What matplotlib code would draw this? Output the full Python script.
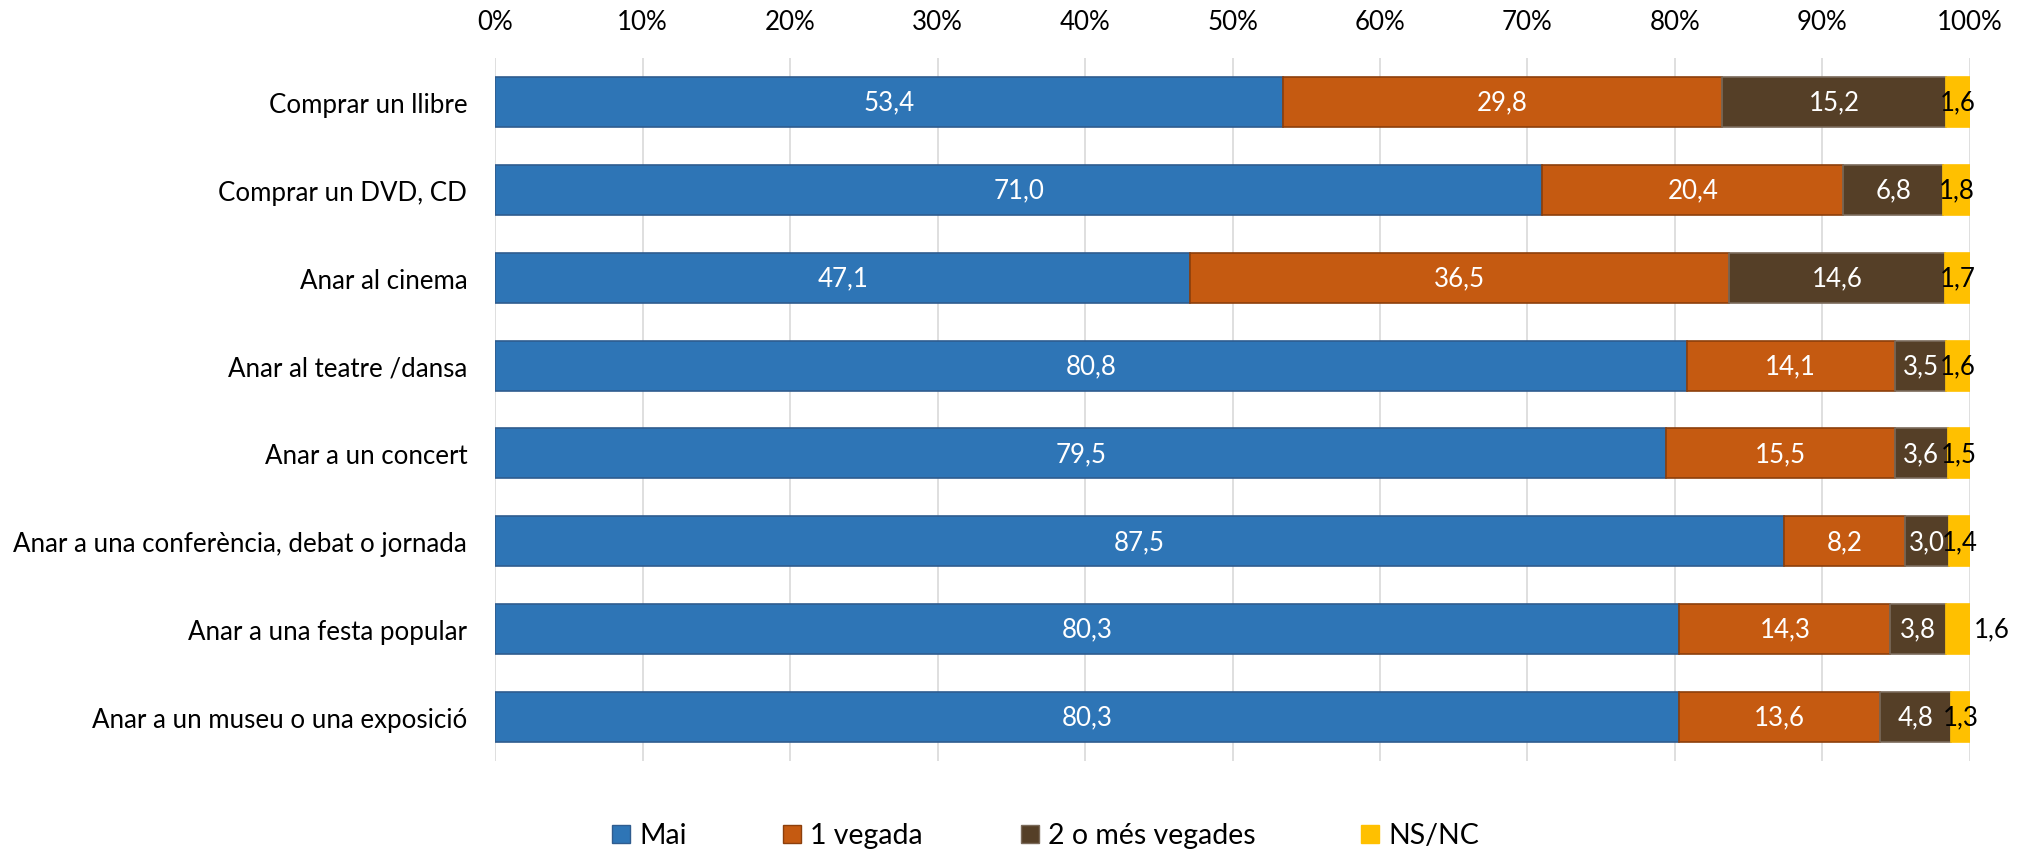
import matplotlib
matplotlib.use("Agg")
import matplotlib.pyplot as plt
from matplotlib.patches import Rectangle
import numpy as np

plt.rcParams['font.family'] = ['Lato', 'DejaVu Sans']

categories = [
    "Comprar un llibre",
    "Comprar un DVD, CD",
    "Anar al cinema",
    "Anar al teatre /dansa",
    "Anar a un concert",
    "Anar a una conferència, debat o jornada",
    "Anar a una festa popular",
    "Anar a un museu o una exposició",
]
mai = [53.4, 71.0, 47.1, 80.8, 79.5, 87.5, 80.3, 80.3]
una_vegada = [29.8, 20.4, 36.5, 14.1, 15.5, 8.2, 14.3, 13.6]
dues_o_mes = [15.2, 6.8, 14.6, 3.5, 3.6, 3.0, 3.8, 4.8]
ns_nc = [1.6, 1.8, 1.7, 1.6, 1.5, 1.4, 1.6, 1.3]

series_names = ["Mai", "1 vegada", "2 o més vegades", "NS/NC"]
colors = ["#2E75B6", "#C55A11", "#553F27", "#FFC000"]
edge_colors = ["#2F5C8F", "#8C3F0C", "#7A6A5A", "#FFC000"]
text_colors = ["white", "white", "white", "black"]

FS = 18.6
LEG_FS = 20.5

data = np.array([mai, una_vegada, dues_o_mes, ns_nc], dtype=float)
totals = data.sum(axis=0)
shares = data / totals * 100  # 100% stacked

fig = plt.figure(figsize=(20.29, 8.53), dpi=100)
ax = fig.add_axes([495 / 2029, 1 - 762 / 853, (1970 - 495) / 2029, (762 - 59) / 853])

y = np.arange(len(categories))
left = np.zeros(len(categories))
for i, name in enumerate(series_names):
    ax.barh(y, shares[i], left=left, height=0.57, color=colors[i],
            edgecolor=edge_colors[i], linewidth=1.2, zorder=3, label=name)
    for j in range(len(categories)):
        label = f"{data[i, j]:.1f}".replace(".", ",")
        xc = left[j] + shares[i, j] / 2
        if i == 3 and categories[j] == "Anar a una festa popular":
            xc = 101.5
        ax.text(xc, y[j], label, ha="center", va="center", color=text_colors[i],
                fontsize=FS, zorder=4)
    left += shares[i]

ax.set_xlim(0, 100)
ax.set_ylim(len(categories) - 0.5, -0.5)
ax.set_xticks(np.arange(0, 101, 10))
ax.set_xticklabels([f"{v}%" for v in range(0, 101, 10)])
ax.xaxis.tick_top()
ax.set_yticks(y)
ax.set_yticklabels(categories)
ax.tick_params(axis="x", length=0, pad=17, labelsize=FS, colors="black")
ax.tick_params(axis="y", length=0, pad=20, labelsize=FS, colors="black")
ax.grid(axis="x", color="#D9D9D9", linewidth=1.2, zorder=0)
for s in ax.spines.values():
    s.set_visible(False)

# legend drawn along the bottom edge
leg_x = [612, 783, 1021, 1361]
leg_y = 835
sq = 18
W, H = 2029, 853
for i, name in enumerate(series_names):
    fig.patches.append(Rectangle((leg_x[i] / W, (H - leg_y - sq / 2) / H), sq / W, sq / H,
                                 transform=fig.transFigure, facecolor=colors[i],
                                 edgecolor=edge_colors[i], linewidth=1))
    fig.text((leg_x[i] + sq + 9) / W, (H - leg_y - 1) / H, name, ha="left", va="center",
             fontsize=LEG_FS)

fig.savefig("out.png", dpi=100)
